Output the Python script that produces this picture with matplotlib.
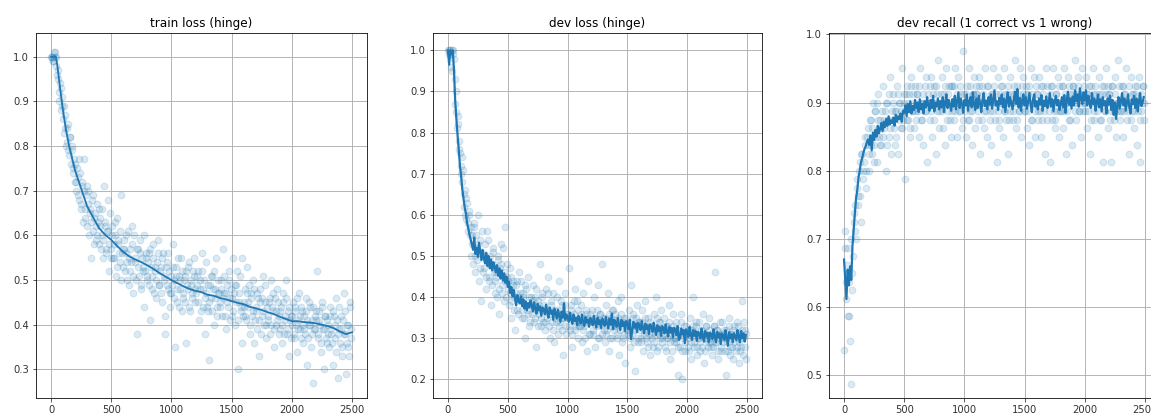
import numpy as np
import matplotlib
matplotlib.use("Agg")
import matplotlib.pyplot as plt

# steps at which the noisy per-batch values were logged (two samples kept per 10 steps)
steps = np.arange(0, 2500, 10)
steps_b = steps + 5

# train loss, per batch, in hundredths
train_loss_pts = [
    100, 100, 99, 101, 100, 96, 95, 90, 93, 89,
    86, 89, 84, 81, 85, 78, 82, 80, 74, 77,
    76, 70, 73, 68, 74, 66, 71, 77, 64, 69,
    62, 70, 65, 55, 68, 61, 64, 59, 67, 63,
    58, 64, 60, 55, 71, 62, 57, 61, 52, 65,
    57, 62, 55, 60, 51, 64, 58, 54, 69, 56,
    53, 59, 56, 50, 61, 55, 52, 58, 47, 60,
    54, 38, 57, 51, 56, 49, 53, 60, 52, 55,
    50, 56, 41, 53, 48, 58, 52, 46, 54, 59,
    49, 53, 45, 56, 51, 38, 54, 48, 52, 44,
    47, 58, 50, 35, 53, 45, 51, 48, 55, 43,
    46, 51, 36, 49, 53, 44, 50, 47, 52, 55,
    45, 49, 52, 41, 48, 56, 44, 50, 38, 47,
    43, 32, 49, 46, 51, 40, 48, 55, 44, 47,
    45, 50, 42, 57, 47, 39, 49, 44, 52, 46,
    42, 55, 47, 40, 49, 30, 45, 51, 43, 36,
    44, 48, 41, 53, 45, 38, 47, 42, 50, 36,
    43, 39, 46, 33, 48, 42, 51, 40, 45, 37,
    41, 45, 38, 50, 43, 35, 46, 40, 48, 42,
    39, 44, 36, 47, 41, 50, 38, 43, 33, 42,
    40, 45, 37, 43, 34, 41, 47, 39, 44, 36,
    42, 38, 46, 31, 40, 44, 35, 41, 27, 39,
    43, 52, 37, 41, 34, 45, 39, 30, 42, 36,
    40, 35, 44, 38, 31, 42, 37, 46, 28, 39,
    36, 42, 33, 47, 38, 29, 40, 35, 44, 37,
]
train_loss_pts_b = [
    100, 99, 101, 100, 98, 97, 92, 94, 88, 91,
    83, 87, 80, 84, 79, 82, 76, 79, 75, 72,
    72, 75, 69, 77, 67, 72, 63, 70, 66, 71,
    67, 60, 66, 63, 69, 58, 65, 62, 60, 66,
    62, 57, 66, 59, 63, 56, 61, 68, 58, 55,
    60, 55, 58, 63, 53, 59, 56, 61, 50, 57,
    57, 52, 60, 54, 49, 57, 54, 62, 51, 55,
    50, 57, 53, 59, 48, 55, 52, 44, 56, 51,
    54, 49, 57, 51, 55, 47, 53, 50, 56, 49,
    52, 47, 55, 50, 42, 53, 49, 56, 47, 51,
    49, 53, 46, 51, 48, 55, 44, 50, 52, 47,
    50, 45, 52, 48, 54, 43, 49, 46, 51, 48,
    47, 51, 45, 50, 43, 52, 48, 46, 54, 44,
    49, 45, 51, 43, 48, 52, 46, 42, 50, 47,
    44, 48, 46, 51, 42, 47, 45, 50, 41, 48,
    46, 43, 49, 45, 52, 41, 47, 44, 55, 42,
    45, 42, 47, 44, 49, 40, 46, 43, 48, 41,
    44, 47, 41, 45, 38, 46, 43, 49, 40, 44,
    42, 46, 40, 44, 47, 39, 43, 41, 45, 38,
    43, 40, 45, 38, 42, 46, 39, 44, 41, 37,
    42, 38, 44, 40, 46, 39, 42, 37, 43, 40,
    39, 43, 41, 37, 45, 40, 38, 44, 39, 42,
    41, 38, 43, 40, 36, 44, 39, 42, 37, 41,
    38, 42, 39, 36, 43, 40, 34, 41, 38, 44,
    39, 35, 41, 38, 43, 36, 40, 33, 45, 39,
]

# train loss, running mean, in thousandths
train_line_x = [0, 20, 40, 50, 75, 100, 125, 150, 200, 250, 300, 350, 400, 450,
                500, 550, 600, 650, 700, 750, 800, 850, 900, 950, 1000, 1050,
                1100, 1150, 1200, 1250, 1300, 1350, 1400, 1450, 1500, 1550,
                1600, 1650, 1700, 1750, 1800, 1850, 1900, 1950, 2000, 2050,
                2100, 2150, 2200, 2250, 2300, 2350, 2400, 2450, 2500]
train_line_y = [1000, 1000, 1000, 985, 930, 878, 835, 800, 745, 705, 665, 640,
                616, 601, 590, 576, 563, 553, 546, 540, 533, 525, 516, 508,
                500, 493, 486, 480, 476, 473, 467, 465, 460, 457, 453, 449,
                446, 440, 437, 433, 428, 424, 418, 413, 408, 408, 406, 405,
                403, 400, 397, 392, 385, 379, 383]

# dev loss, per eval, in hundredths
dev_loss_pts = [
    100, 100, 99, 95, 100, 98, 87, 90, 82, 78,
    75, 70, 74, 62, 66, 59, 63, 56, 60, 50,
    55, 48, 58, 46, 52, 60, 44, 54, 39, 50,
    47, 53, 42, 56, 45, 50, 38, 48, 52, 44,
    46, 40, 50, 36, 48, 43, 52, 39, 57, 45,
    42, 38, 47, 35, 44, 40, 32, 43, 37, 46,
    39, 44, 35, 41, 30, 42, 37, 45, 33, 40,
    38, 43, 34, 40, 28, 39, 36, 48, 33, 41,
    37, 32, 42, 35, 45, 30, 38, 34, 41, 29,
    36, 40, 31, 44, 34, 38, 26, 35, 41, 33,
    35, 47, 32, 38, 28, 36, 42, 33, 39, 30,
    34, 38, 29, 41, 33, 36, 27, 44, 35, 31,
    37, 32, 40, 28, 35, 43, 30, 36, 33, 48,
    34, 29, 38, 32, 41, 27, 35, 30, 37, 33,
    36, 31, 39, 26, 34, 40, 30, 35, 24, 33,
    32, 37, 28, 43, 31, 35, 22, 33, 38, 29,
    34, 30, 37, 27, 32, 39, 29, 35, 31, 26,
    33, 28, 36, 31, 40, 27, 34, 30, 37, 29,
    32, 35, 27, 33, 30, 38, 25, 31, 36, 29,
    30, 34, 21, 32, 28, 36, 20, 31, 27, 33,
    31, 28, 35, 25, 32, 40, 29, 33, 26, 30,
    34, 27, 31, 36, 24, 30, 33, 28, 35, 29,
    30, 26, 33, 46, 29, 32, 25, 31, 27, 34,
    29, 32, 21, 30, 27, 35, 28, 31, 25, 33,
    30, 27, 34, 24, 31, 28, 39, 26, 32, 25,
]
dev_loss_pts_b = [
    99, 100, 96, 100, 99, 93, 85, 81, 84, 76,
    72, 68, 71, 65, 60, 64, 58, 61, 55, 57,
    53, 57, 50, 55, 49, 53, 47, 51, 56, 46,
    50, 45, 49, 54, 44, 48, 43, 51, 46, 41,
    45, 49, 42, 47, 53, 41, 46, 44, 40, 48,
    44, 41, 45, 39, 43, 37, 41, 44, 36, 40,
    41, 37, 40, 35, 43, 38, 36, 40, 34, 38,
    36, 39, 35, 42, 37, 33, 38, 35, 40, 34,
    38, 34, 37, 41, 33, 36, 39, 32, 37, 35,
    34, 37, 33, 36, 39, 32, 35, 38, 31, 36,
    36, 33, 37, 31, 35, 39, 32, 34, 37, 33,
    33, 36, 32, 35, 30, 37, 34, 31, 36, 34,
    34, 31, 35, 33, 37, 30, 34, 36, 31, 35,
    32, 35, 31, 34, 36, 30, 33, 37, 32, 34,
    33, 30, 35, 32, 36, 29, 34, 31, 35, 32,
    31, 34, 30, 33, 36, 29, 32, 35, 30, 34,
    32, 29, 34, 31, 35, 30, 33, 28, 34, 31,
    30, 33, 29, 32, 35, 28, 31, 34, 30, 32,
    31, 28, 33, 30, 34, 29, 32, 27, 33, 30,
    29, 32, 28, 31, 34, 27, 30, 33, 29, 31,
    30, 27, 32, 29, 33, 28, 31, 34, 28, 30,
    29, 32, 28, 31, 27, 33, 30, 29, 32, 28,
    31, 28, 33, 29, 32, 27, 30, 34, 28, 31,
    30, 27, 32, 29, 33, 26, 31, 28, 32, 29,
    31, 28, 33, 29, 27, 32, 30, 34, 28, 31,
]

# dev loss, smoothed, in thousandths
dev_loss_line = [
    1000, 965, 1000, 990, 1000, 955, 880, 835, 795, 760,
    720, 695, 662, 640, 618, 603, 580, 567, 552, 540,
    528, 515, 545, 505, 520, 498, 532, 510, 490, 515,
    495, 482, 508, 476, 500, 470, 492, 465, 485, 475,
    460, 478, 452, 470, 445, 465, 440, 458, 435, 450,
    425, 438, 410, 425, 402, 418, 398, 380, 405, 392,
    385, 402, 378, 395, 372, 390, 368, 386, 375, 392,
    380, 365, 388, 372, 360, 384, 368, 378, 355, 375,
    370, 358, 382, 362, 350, 375, 360, 368, 345, 372,
    362, 348, 370, 355, 340, 365, 350, 385, 345, 358,
    352, 340, 362, 345, 335, 358, 342, 350, 332, 355,
    345, 336, 358, 340, 330, 352, 338, 346, 328, 350,
    342, 332, 355, 338, 326, 350, 335, 344, 325, 348,
    340, 330, 352, 336, 324, 348, 333, 360, 322, 345,
    338, 328, 350, 332, 320, 345, 330, 340, 318, 342,
    335, 322, 345, 298, 318, 340, 326, 336, 315, 338,
    330, 320, 342, 326, 312, 336, 322, 332, 310, 334,
    328, 316, 338, 322, 308, 332, 318, 328, 306, 330,
    324, 312, 334, 318, 304, 328, 314, 325, 302, 326,
    320, 308, 330, 296, 300, 324, 310, 320, 288, 322,
    316, 304, 328, 310, 296, 320, 306, 318, 294, 316,
    312, 300, 324, 306, 292, 318, 304, 314, 290, 314,
    310, 298, 322, 305, 290, 316, 302, 312, 286, 312,
    308, 296, 320, 304, 282, 315, 300, 310, 290, 312,
    306, 296, 320, 304, 290, 318, 300, 312, 292, 308,
]

# dev recall, per eval, as number correct out of 80
dev_recall_hits = [
    43, 57, 51, 55, 47, 44, 39, 52, 58, 60,
    56, 63, 61, 65, 58, 66, 64, 67, 62, 68,
    69, 64, 70, 66, 72, 67, 71, 65, 73, 68,
    70, 67, 74, 69, 71, 64, 72, 68, 75, 66,
    70, 73, 67, 71, 74, 66, 72, 69, 76, 70,
    72, 63, 74, 70, 73, 68, 75, 71, 69, 74,
    71, 73, 68, 76, 70, 72, 67, 74, 71, 65,
    73, 70, 75, 68, 72, 74, 66, 71, 77, 69,
    72, 75, 69, 73, 67, 76, 71, 74, 70, 68,
    74, 70, 76, 72, 68, 75, 71, 73, 69, 78,
    72, 68, 74, 70, 76, 71, 67, 73, 75, 69,
    73, 70, 75, 66, 72, 74, 69, 76, 71, 68,
    74, 71, 67, 73, 76, 70, 72, 65, 75, 69,
    72, 74, 68, 76, 71, 73, 66, 70, 75, 72,
    70, 73, 77, 69, 74, 71, 76, 68, 72, 75,
    71, 74, 69, 73, 67, 76, 70, 72, 75, 68,
    73, 70, 75, 71, 68, 74, 72, 66, 76, 70,
    72, 65, 74, 70, 76, 69, 73, 71, 75, 68,
    71, 74, 69, 76, 66, 72, 75, 70, 73, 67,
    74, 72, 77, 70, 75, 71, 73, 68, 76, 72,
    71, 75, 69, 73, 66, 74, 72, 76, 70, 73,
    72, 68, 75, 70, 73, 65, 74, 71, 76, 69,
    73, 70, 65, 74, 71, 75, 68, 72, 77, 70,
    71, 74, 68, 73, 76, 70, 72, 66, 75, 71,
    73, 69, 74, 67, 72, 75, 65, 71, 74, 70,
]
dev_recall_hits_b = [
    55, 49, 53, 47, 51, 56, 50, 54, 59, 57,
    62, 60, 64, 61, 66, 63, 65, 68, 64, 67,
    66, 70, 67, 69, 65, 71, 68, 72, 70, 67,
    69, 71, 68, 70, 72, 67, 70, 73, 69, 71,
    72, 69, 71, 68, 73, 70, 72, 71, 69, 73,
    71, 73, 70, 72, 69, 74, 71, 73, 72, 70,
    73, 71, 74, 72, 70, 73, 72, 71, 75, 72,
    72, 74, 71, 73, 70, 72, 74, 73, 71, 72,
    73, 71, 72, 74, 72, 70, 73, 72, 74, 71,
    72, 74, 71, 73, 72, 71, 74, 72, 70, 73,
    71, 73, 72, 70, 74, 72, 71, 73, 72, 74,
    73, 71, 74, 72, 70, 73, 71, 72, 74, 72,
    72, 70, 73, 71, 74, 72, 73, 71, 70, 73,
    74, 72, 71, 73, 70, 72, 74, 71, 73, 72,
    71, 74, 72, 70, 73, 71, 72, 74, 73, 71,
    72, 73, 71, 74, 72, 70, 73, 72, 71, 74,
    73, 71, 72, 74, 70, 73, 71, 72, 74, 72,
    71, 73, 74, 72, 71, 70, 73, 72, 74, 71,
    72, 74, 71, 73, 72, 71, 74, 70, 72, 73,
    74, 71, 73, 72, 74, 71, 72, 73, 71, 74,
    72, 73, 71, 74, 72, 70, 73, 71, 74, 72,
    71, 73, 72, 70, 74, 72, 71, 73, 72, 74,
    73, 71, 74, 72, 70, 73, 71, 72, 74, 71,
    72, 74, 71, 73, 72, 71, 74, 72, 70, 73,
    71, 73, 72, 74, 71, 70, 73, 72, 74, 72,
]

# dev recall, smoothed, in thousandths
dev_recall_line = [
    670, 640, 612, 655, 632, 660, 640, 690, 715, 738,
    760, 772, 790, 800, 812, 818, 826, 832, 836, 842,
    846, 838, 852, 830, 856, 845, 860, 850, 866, 855,
    862, 870, 858, 872, 864, 876, 866, 880, 868, 874,
    870, 878, 866, 882, 872, 880, 876, 884, 872, 888,
    885, 896, 880, 898, 886, 902, 884, 895, 889, 904,
    892, 900, 886, 905, 890, 898, 884, 902, 893, 908,
    896, 888, 904, 892, 910, 887, 900, 894, 906, 890,
    902, 893, 908, 886, 900, 912, 892, 904, 896, 888,
    905, 894, 910, 890, 902, 915, 892, 906, 898, 885,
    904, 896, 912, 888, 902, 908, 893, 915, 897, 889,
    906, 892, 910, 899, 886, 904, 914, 895, 903, 890,
    908, 897, 912, 891, 905, 918, 896, 902, 889, 907,
    898, 912, 893, 906, 886, 903, 915, 894, 908, 899,
    890, 905, 916, 898, 920, 893, 907, 888, 904, 912,
    896, 908, 891, 903, 914, 897, 886, 905, 912, 894,
    902, 890, 906, 897, 911, 888, 903, 895, 909, 892,
    900, 914, 894, 905, 887, 902, 910, 896, 904, 889,
    898, 908, 893, 911, 885, 903, 916, 897, 906, 891,
    909, 896, 918, 902, 912, 894, 921, 905, 898, 915,
    903, 918, 896, 910, 900, 892, 914, 898, 906, 888,
    901, 912, 893, 905, 887, 908, 896, 902, 884, 906,
    897, 910, 889, 904, 882, 900, 876, 895, 908, 891,
    903, 914, 896, 906, 888, 900, 912, 893, 884, 905,
    898, 910, 892, 906, 887, 902, 914, 895, 900, 908,
]

W, H = 1151, 415
fig = plt.figure(figsize=(W / 72, H / 72), dpi=72)


def make_ax(left, right, top=33, bottom=398):
    ax = fig.add_axes([left / W, 1 - bottom / H, (right - left) / W, (bottom - top) / H])
    ax.grid(True, color="#b0b0b0", linewidth=0.9)
    ax.set_axisbelow(True)
    ax.tick_params(labelsize=10, colors="#333333")
    ax.set_xlim(-125, 2625)
    ax.set_xticks([0, 500, 1000, 1500, 2000, 2500])
    return ax


def cloud(ax, a, b, scale):
    ax.scatter(steps, np.array(a) / scale, s=46, alpha=0.16, color="C0")
    ax.scatter(steps_b, np.array(b) / scale, s=46, alpha=0.16, color="C0")


ax1 = make_ax(36, 367)
cloud(ax1, train_loss_pts, train_loss_pts_b, 100)
ax1.plot(train_line_x, np.array(train_line_y) / 1000, color="C0", lw=1.8)
ax1.set_ylim(0.236, 1.053)
ax1.set_title("train loss (hinge)", fontsize=12)

ax2 = make_ax(433, 762)
cloud(ax2, dev_loss_pts, dev_loss_pts_b, 100)
ax2.plot(steps, np.array(dev_loss_line) / 1000, color="C0", lw=2.2)
ax2.set_ylim(0.155, 1.042)
ax2.set_yticks([0.2, 0.3, 0.4, 0.5, 0.6, 0.7, 0.8, 0.9, 1.0])
ax2.set_title("dev loss (hinge)", fontsize=12)

ax3 = make_ax(829, 1160)
cloud(ax3, dev_recall_hits, dev_recall_hits_b, 80)
ax3.plot(steps, np.array(dev_recall_line) / 1000, color="C0", lw=2.2)
ax3.set_ylim(0.467, 1.002)
ax3.set_yticks([0.5, 0.6, 0.7, 0.8, 0.9, 1.0])
ax3.set_title("dev recall (1 correct vs 1 wrong)", fontsize=12)

fig.savefig("out.png", dpi=72)
